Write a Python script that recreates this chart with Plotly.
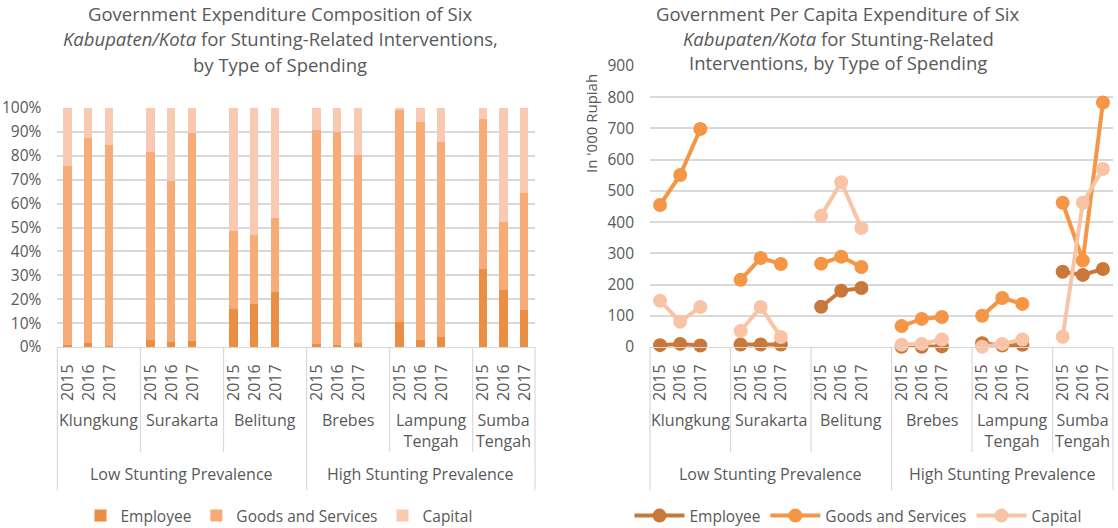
import plotly.graph_objects as go

# Districts, years and grouping
cities = ["Klungkung", "Surakarta", "Belitung", "Brebes", "Lampung<br>Tengah", "Sumba<br>Tengah"]
years = ["2015", "2016", "2017"]
groups = ["Low Stunting Prevalence", "High Stunting Prevalence"]
cities_per_group = [3, 3]

# Per capita expenditure ('000 Rupiah), ordered city by city, 2015-2017
employee = [6, 10, 5,   8, 8, 8,   129, 180, 189,   1, 1, 2,   12, 5, 7,   241, 231, 250]
goods    = [455, 551, 698,   215, 285, 266,   267, 289, 256,   67, 90, 96,   100, 157, 138,   462, 277, 783]
capital  = [148, 81, 128,   51, 128, 32,   420, 528, 381,   7, 10, 24,   1, 10, 24,   33, 462, 570]

series_names = ["Employee", "Goods and Services", "Capital"]
bar_colors = ["#E98E42", "#F7AB76", "#F9CAB1"]
line_colors = ["#C97839", "#F59546", "#F9C4A6"]
TEXT = "#595959"
GRID = "#D9D9D9"
FONT = "Open Sans"

W, H = 1118, 528
TOP, BOTTOM = 66, 347          # pixel rows of the plotting band
PLOT_H = BOTTOM - TOP


def py(p):
    """pixel row -> paper y"""
    return (BOTTOM - p) / PLOT_H


def px(p):
    return p / W


# slot layout: 3 years per city, one empty slot between cities
n_years = len(years)
stride = n_years + 1
n_slots = len(cities) * stride - 1
slots = [c * stride + j for c in range(len(cities)) for j in range(n_years)]

# line series positions with a break between cities
line_x = []
for c in range(len(cities)):
    for j in range(n_years):
        line_x.append(c * stride + j)
    if c < len(cities) - 1:
        line_x.append(c * stride + n_years)


def with_gaps(vals):
    out = []
    for c in range(len(cities)):
        out.extend(vals[c * n_years:(c + 1) * n_years])
        if c < len(cities) - 1:
            out.append(None)
    return out


dom1 = [px(57.4), px(535)]
dom2 = [px(650), px(1113)]

fig = go.Figure()

for name, vals, col in zip(series_names, [employee, goods, capital], bar_colors):
    fig.add_trace(go.Bar(
        x=slots, y=vals, name=name, marker=dict(color=col, line=dict(width=0)),
        width=0.4, xaxis="x", yaxis="y", legend="legend",
    ))

for name, vals, col in zip(series_names, [employee, goods, capital], line_colors):
    fig.add_trace(go.Scatter(
        x=line_x, y=with_gaps(vals), name=name, mode="lines+markers",
        line=dict(color=col, width=4), marker=dict(color=col, size=14),
        xaxis="x2", yaxis="y2", legend="legend2", cliponaxis=False,
    ))

tick_font = dict(family=FONT, size=15.5, color=TEXT)
year_font = dict(family=FONT, size=16, color=TEXT)
label_font = dict(family=FONT, size=16, color=TEXT)
xcommon = dict(
    range=[-0.5, n_slots - 0.5], tickmode="array", tickvals=slots,
    ticktext=years * len(cities), tickangle=-90, showgrid=False, zeroline=False,
    showline=True, linecolor=GRID, linewidth=1, ticks="", tickfont=year_font,
    ticklabelstandoff=10, fixedrange=True,
)
fig.update_layout(
    width=W, height=H, plot_bgcolor="white", paper_bgcolor="white",
    margin=dict(l=0, r=0, t=TOP, b=H - BOTTOM, autoexpand=False),
    barmode="stack", barnorm="percent", bargap=0,
    font=dict(family=FONT, color=TEXT),
    xaxis=dict(domain=dom1, anchor="y", **xcommon),
    xaxis2=dict(domain=dom2, anchor="y2", **xcommon),
    yaxis=dict(domain=[0, py(108)], anchor="x", range=[0, 100], dtick=10,
               ticksuffix="%", showgrid=True, gridcolor=GRID, gridwidth=1.5,
               zeroline=False, showline=False, tickfont=tick_font,
               ticklabelstandoff=15, fixedrange=True),
    yaxis2=dict(domain=[0, 1], anchor="x2", range=[0, 900], dtick=100,
                showgrid=True, gridcolor=GRID, gridwidth=1.5, zeroline=False,
                showline=False, tickfont=tick_font, ticklabelstandoff=15,
                fixedrange=True),
    legend=dict(orientation="h", x=px(279), xanchor="center", y=py(516),
                yanchor="middle", font=dict(family=FONT, size=15.5, color=TEXT),
                itemwidth=30, traceorder="normal"),
    legend2=dict(orientation="h", x=px(858), xanchor="center", y=py(516),
                 yanchor="middle", font=dict(family=FONT, size=15.5, color=TEXT),
                 itemwidth=50, traceorder="normal"),
)

shapes, annotations = [], []


def slot_to_paper(b, dom):
    return dom[0] + (b + 0.5) / n_slots * (dom[1] - dom[0])


city_bounds = [-0.5] + [c * stride + n_years + 0.5 for c in range(len(cities) - 1)] + [n_slots - 0.5]
group_bounds = [-0.5]
acc = 0
for k in cities_per_group:
    acc += k
    group_bounds.append(city_bounds[acc])

for dom, xref in [(dom1, "x"), (dom2, "x2")]:
    for b in city_bounds:
        bottom = 490 if b in group_bounds else 452
        xp = slot_to_paper(b, dom)
        shapes.append(dict(type="line", xref="paper", yref="paper", x0=xp, x1=xp,
                           y0=0, y1=py(bottom), line=dict(color=GRID, width=1.2)))
    for c, name in enumerate(cities):
        annotations.append(dict(
            x=(city_bounds[c] + city_bounds[c + 1]) / 2, xref=xref, y=py(407),
            yref="paper", yanchor="top", text=name, showarrow=False,
            font=label_font))
    for g, name in enumerate(groups):
        annotations.append(dict(
            x=(group_bounds[g] + group_bounds[g + 1]) / 2, xref=xref, y=py(474),
            yref="paper", yanchor="middle", text=name, showarrow=False,
            font=label_font))

title_font = dict(family=FONT, size=18.5, color=TEXT)
left_title = ["Government Expenditure Composition of Six",
              "<i>Kabupaten/Kota</i> for Stunting-Related Interventions,",
              "by Type of Spending"]
right_title = ["Government Per Capita Expenditure of Six",
               "<i>Kabupaten/Kota</i> for Stunting-Related",
               "Interventions, by Type of Spending"]
for line, yy in zip(left_title, [14, 39, 64]):
    annotations.append(dict(x=px(280), y=py(yy), xref="paper", yref="paper",
                            xanchor="center", yanchor="middle", text=line,
                            showarrow=False, font=title_font))
for line, yy in zip(right_title, [14, 38, 63]):
    annotations.append(dict(x=px(838), y=py(yy), xref="paper", yref="paper",
                            xanchor="center", yanchor="middle", text=line,
                            showarrow=False, font=title_font))

annotations.append(dict(x=px(591), y=py(124), xref="paper", yref="paper",
                        xanchor="center", yanchor="middle", text="In '000 Rupiah",
                        textangle=-90, showarrow=False,
                        font=dict(family=FONT, size=15, color=TEXT)))

fig.update_layout(shapes=shapes, annotations=annotations)
fig.write_html("out.html")
